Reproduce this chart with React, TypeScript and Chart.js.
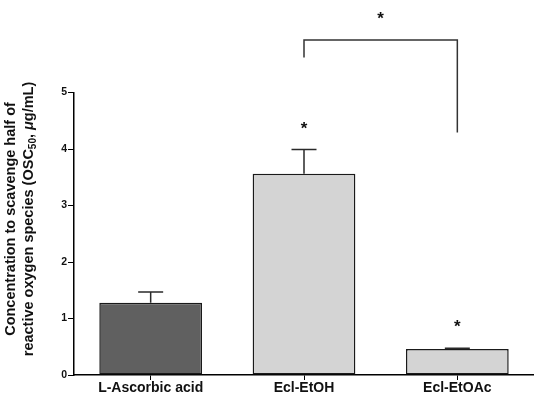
import React, { useEffect, useRef } from "react";
import { Chart, registerables } from "chart.js";

Chart.register(...registerables);

const categories = ["L-Ascorbic acid", "Ecl-EtOH", "Ecl-EtOAc"];
const means = [1.28, 3.56, 0.46];
const errors = [0.19, 0.43, 0.015];
const barColors = ["#606060", "#d4d4d4", "#d4d4d4"];
const yTickValues = [0, 1, 2, 3, 4, 5];
const starred = [false, true, true];
const starOffset = 0.43;
const bracketFrom = 1;
const bracketTo = 2;
const bracketLevel = 5.93;
const bracketLeftEnd = 5.62;
const bracketRightEnd = 4.29;
const titleLine1 = "Concentration to scavenge half of";
const titleLine2 = [
  { t: "reactive oxygen species (OSC", sub: false, it: false },
  { t: "50", sub: true, it: false },
  { t: ", ", sub: false, it: false },
  { t: "\u03bc", sub: false, it: true },
  { t: "g/mL)", sub: false, it: false },
];

const FONT = "'Liberation Sans', Arial, sans-serif";

function drawStar(ctx: CanvasRenderingContext2D, x: number, y: number) {
  ctx.save();
  ctx.font = `bold 17px ${FONT}`;
  ctx.fillStyle = "#111";
  ctx.textAlign = "center";
  ctx.textBaseline = "alphabetic";
  const m = ctx.measureText("*");
  const asc = m.actualBoundingBoxAscent;
  const desc = m.actualBoundingBoxDescent;
  ctx.fillText("*", x, y + (asc - desc) / 2);
  ctx.restore();
}

const annotPlugin = {
  id: "annot",
  afterDatasetsDraw(chart: any) {
    const ctx: CanvasRenderingContext2D = chart.ctx;
    const yScale = chart.scales.y;
    const meta = chart.getDatasetMeta(0);
    ctx.save();
    ctx.strokeStyle = "#2a2a2a";
    ctx.lineWidth = 1.5;
    meta.data.forEach((bar: any, i: number) => {
      const x = bar.x;
      const yTop = yScale.getPixelForValue(means[i]);
      const yErr = yScale.getPixelForValue(means[i] + errors[i]);
      ctx.beginPath();
      ctx.moveTo(x, yTop);
      ctx.lineTo(x, yErr);
      ctx.moveTo(x - 12.5, yErr);
      ctx.lineTo(x + 12.5, yErr);
      ctx.stroke();
      if (starred[i]) {
        drawStar(ctx, x, yScale.getPixelForValue(means[i] + errors[i] + starOffset));
      }
    });
    // bracket
    const x1 = meta.data[bracketFrom].x;
    const x2 = meta.data[bracketTo].x;
    const yb = yScale.getPixelForValue(bracketLevel);
    ctx.strokeStyle = "#333";
    ctx.beginPath();
    ctx.moveTo(x1, yScale.getPixelForValue(bracketLeftEnd));
    ctx.lineTo(x1, yb);
    ctx.lineTo(x2, yb);
    ctx.lineTo(x2, yScale.getPixelForValue(bracketRightEnd));
    ctx.stroke();
    drawStar(ctx, (x1 + x2) / 2, yScale.getPixelForValue(bracketLevel + 0.44));
    ctx.restore();
  },
  afterDraw(chart: any) {
    const ctx: CanvasRenderingContext2D = chart.ctx;
    const cy = 219;
    const size = 14.5;
    ctx.save();
    ctx.fillStyle = "#111";
    ctx.textBaseline = "alphabetic";
    // line 1
    ctx.save();
    ctx.translate(15, cy);
    ctx.rotate(-Math.PI / 2);
    ctx.font = `bold ${size}px ${FONT}`;
    ctx.textAlign = "center";
    ctx.fillText(titleLine1, 0, 0);
    ctx.restore();
    // line 2
    ctx.save();
    ctx.translate(33, cy);
    ctx.rotate(-Math.PI / 2);
    ctx.textAlign = "left";
    const fontFor = (s: any) =>
      `${s.it ? "italic " : ""}bold ${s.sub ? 10 : size}px ${FONT}`;
    let total = 0;
    const widths = titleLine2.map((s) => {
      ctx.font = fontFor(s);
      const w = ctx.measureText(s.t).width;
      total += w;
      return w;
    });
    let xx = -total / 2;
    titleLine2.forEach((s, i) => {
      ctx.font = fontFor(s);
      ctx.fillText(s.t, xx, s.sub ? 3 : 0);
      xx += widths[i];
    });
    ctx.restore();
    ctx.restore();
  },
};

export default function App() {
  const ref = useRef<HTMLCanvasElement | null>(null);
  useEffect(() => {
    if (!ref.current) return;
    const chart = new Chart(ref.current, {
      type: "bar",
      data: {
        labels: categories,
        datasets: [
          {
            data: means,
            backgroundColor: barColors,
            borderColor: "#1a1a1a",
            borderWidth: 1.5,
            borderSkipped: false,
            barPercentage: 0.67,
            categoryPercentage: 1,
          },
        ],
      },
      options: {
        animation: false,
        responsive: false,
        devicePixelRatio: 1,
        layout: { padding: { top: 92.5, left: 0, right: 0, bottom: 0 } },
        plugins: {
          legend: { display: false },
          tooltip: { enabled: false },
          title: { display: false },
        },
        scales: {
          x: {
            type: "category",
            offset: true,
            grid: {
              display: true,
              drawOnChartArea: false,
              drawTicks: true,
              tickLength: 5,
              offset: false,
              color: "#000",
              lineWidth: 1,
            },
            border: { display: true, color: "#000", width: 1.5 },
            ticks: {
              color: "#111",
              font: { family: FONT, size: 14, weight: "bold" },
              padding: 0,
              maxRotation: 0,
              autoSkip: false,
            },
            afterFit: (s: any) => {
              s.height = 20;
            },
          },
          y: {
            type: "linear",
            min: 0,
            max: 5,
            afterBuildTicks: (s: any) => {
              s.ticks = yTickValues.map((v) => ({ value: v }));
            },
            grid: {
              display: true,
              drawOnChartArea: false,
              drawTicks: true,
              tickLength: 6,
              color: "#000",
              lineWidth: 1,
            },
            border: { display: true, color: "#000", width: 1.5 },
            ticks: {
              color: "#111",
              font: { family: FONT, size: 10.5, weight: "bold" },
              padding: 1,
              callback: (v: any) => String(v),
            },
            afterFit: (s: any) => {
              s.width = 74;
            },
          },
        },
      },
      plugins: [annotPlugin],
    } as any);
    return () => chart.destroy();
  }, []);
  return (
    <div style={{ position: "absolute", left: 0, top: 0, width: 534, height: 395, background: "#fff" }}>
      <canvas ref={ref} width={534} height={395} style={{ display: "block" }} />
    </div>
  );
}
